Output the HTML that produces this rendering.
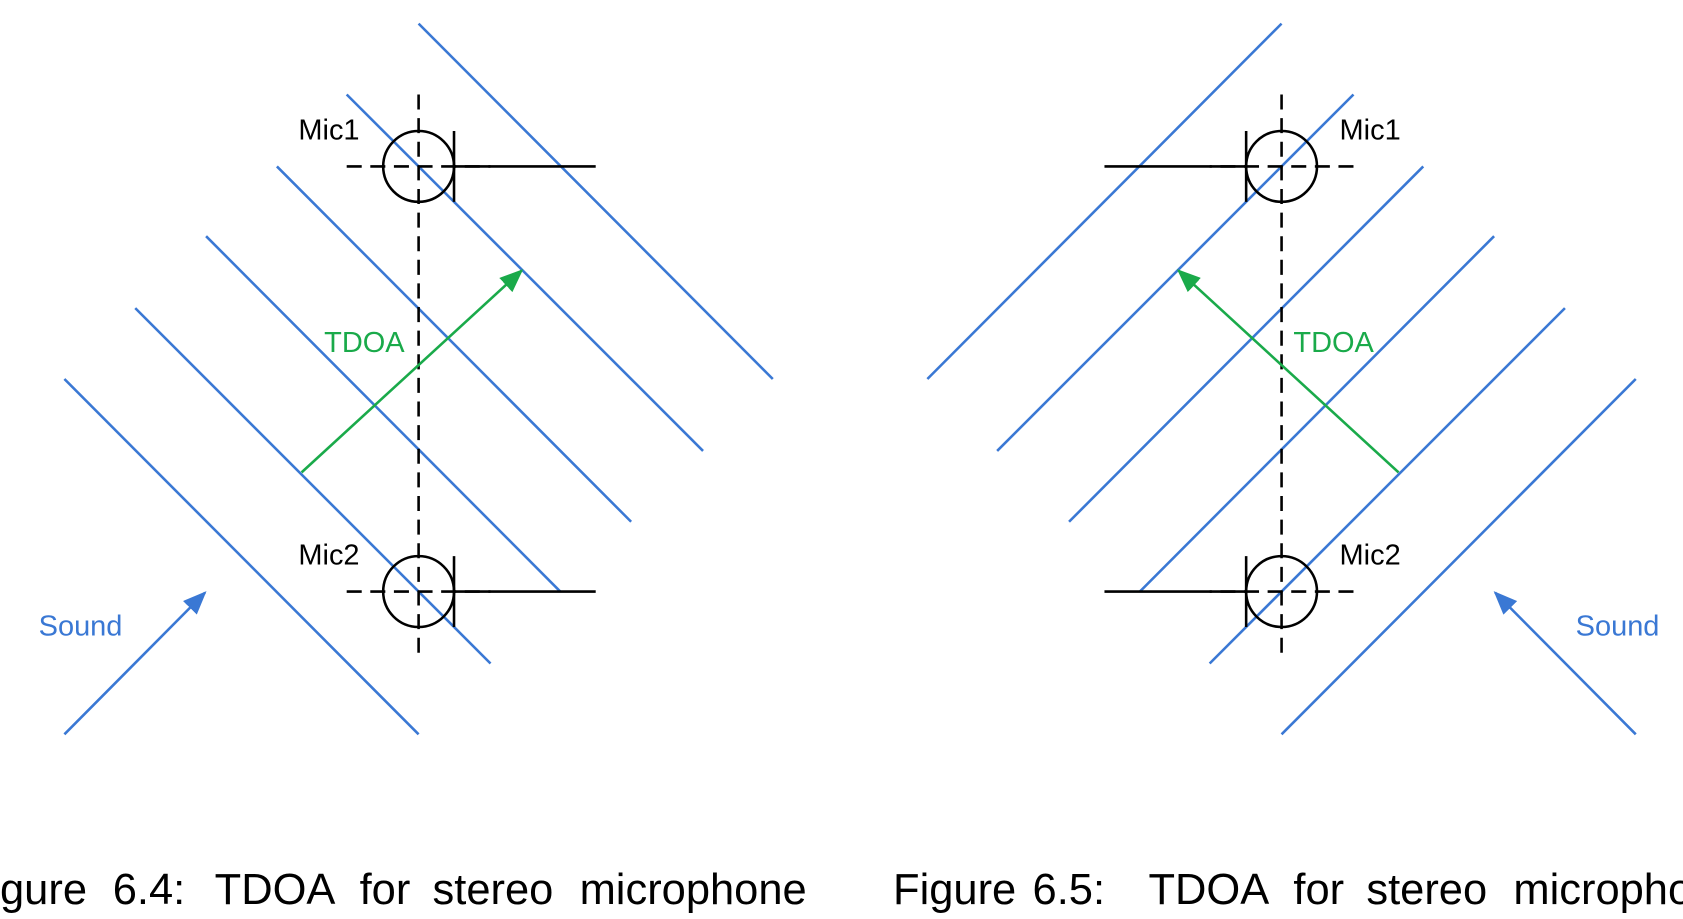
<!DOCTYPE html>
<html><head><meta charset="utf-8"><style>
html,body{margin:0;padding:0;background:#fff;width:1683px;height:919px;overflow:hidden}
svg{display:block}
text{font-family:"Liberation Sans",Arial,sans-serif}
</style></head><body>
<svg width="1683" height="919" viewBox="0 0 1568 856" preserveAspectRatio="none" xmlns="http://www.w3.org/2000/svg">
<defs>
<marker id="ab" markerWidth="22" markerHeight="18" refX="20" refY="9" orient="auto" markerUnits="userSpaceOnUse"><path d="M0,0 L22,9 L0,18 z" fill="#3a78d4"/></marker>
<marker id="ag" markerWidth="22" markerHeight="18" refX="20" refY="9" orient="auto" markerUnits="userSpaceOnUse"><path d="M0,0 L22,9 L0,18 z" fill="#1aaa4a"/></marker>
</defs>
<g id="L">
<g stroke="#3a78d4" stroke-width="2.4" fill="none">
<line x1="390" y1="22" x2="720" y2="353"/>
<line x1="323" y1="88" x2="655" y2="420"/>
<line x1="258" y1="155" x2="588" y2="486"/>
<line x1="192" y1="220" x2="522" y2="551"/>
<line x1="126" y1="287" x2="457" y2="618"/>
<line x1="60" y1="353" x2="390" y2="684"/>
<line x1="60" y1="684" x2="191" y2="552" marker-end="url(#ab)"/>
</g>
<g stroke="#000" stroke-width="2.4" fill="none">
<line x1="390" y1="88" x2="390" y2="612" stroke-dasharray="14,8"/>
<line x1="323" y1="155" x2="457" y2="155" stroke-dasharray="14,8"/>
<line x1="323" y1="551" x2="457" y2="551" stroke-dasharray="14,8"/>
<circle cx="390" cy="155" r="33"/>
<circle cx="390" cy="551" r="33"/>
<line x1="423" y1="122" x2="423" y2="188"/>
<line x1="423" y1="155" x2="555" y2="155"/>
<line x1="423" y1="518" x2="423" y2="584"/>
<line x1="423" y1="551" x2="555" y2="551"/>
</g>
<line x1="281" y1="440" x2="486" y2="252" stroke="#1aaa4a" stroke-width="2.4" marker-end="url(#ag)"/>
</g>
<use href="#L" transform="translate(1584,0) scale(-1,1)"/>
<g font-size="27">
<text x="278" y="130">Mic1</text>
<text x="278" y="526">Mic2</text>
<text x="1248" y="130">Mic1</text>
<text x="1248" y="526">Mic2</text>
<text x="302" y="328" fill="#1aaa4a">TDOA</text>
<text x="1205" y="328" fill="#1aaa4a">TDOA</text>
<text x="36" y="592" fill="#3a78d4">Sound</text>
<text x="1468" y="592" fill="#3a78d4">Sound</text>
</g>
<g font-size="40.5">
<text x="0" y="842">gure</text>
<text x="105" y="842">6.4:</text>
<text x="200" y="842">TDOA</text>
<text x="335" y="842">for</text>
<text x="403" y="842">stereo</text>
<text x="540" y="842">microphone</text>
<text x="832" y="842">Figure</text>
<text x="962" y="842">6.5:</text>
<text x="1070" y="842">TDOA</text>
<text x="1205" y="842">for</text>
<text x="1273" y="842">stereo</text>
<text x="1410" y="842">microphone</text>
</g>
</svg>
</body></html>
